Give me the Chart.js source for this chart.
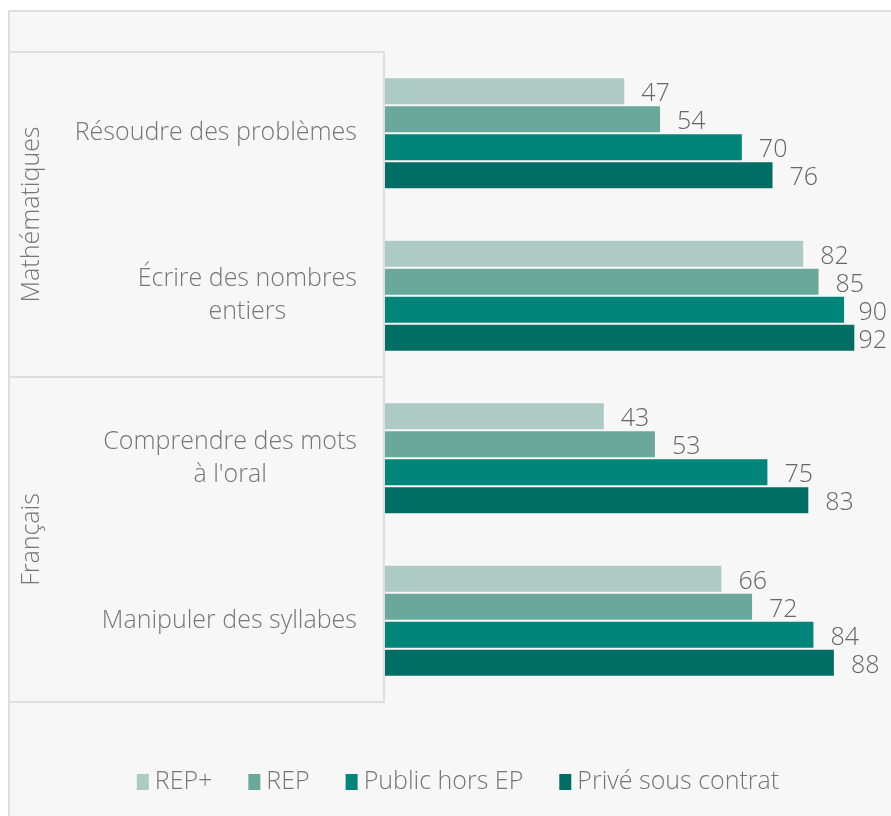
<!DOCTYPE html>
<html><head><meta charset="utf-8">
<script src="https://cdn.jsdelivr.net/npm/chart.js@4"></script>
<style>html,body{margin:0;padding:0;background:#fff}canvas{display:block}</style>
</head><body>
<canvas id="c" width="891" height="816"></canvas>
<script>
const categories = [["Résoudre des problèmes"], ["Écrire des nombres", "entiers"], ["Comprendre des mots", "à l'oral"], ["Manipuler des syllabes"]];
const groupNames = ["Mathématiques", "Français"];
const groupRanges = [[0, 1], [2, 3]];
const seriesNames = ["REP+", "REP", "Public hors EP", "Privé sous contrat"];
const repPlus = [47, 82, 43, 66];
const rep = [54, 85, 53, 72];
const publicHorsEP = [70, 90, 75, 84];
const priveSousContrat = [76, 92, 83, 88];
const colors = ["#aecac4", "#6aa89c", "#00857a", "#006e64"];

const FONT = "'Open Sans', Lato, sans-serif";
const TEXT = "#767676";
const LINE = "#dedede";

const deco = {
  id: 'deco',
  beforeDraw(chart) {
    const ctx = chart.ctx, y = chart.scales.y, a = chart.chartArea;
    ctx.save();
    ctx.fillStyle = '#fff'; ctx.fillRect(0, 0, chart.width, chart.height);
    ctx.fillStyle = '#f7f7f7'; ctx.fillRect(8, 10, chart.width - 8, chart.height - 10);
    ctx.strokeStyle = LINE; ctx.lineWidth = 2;
    ctx.beginPath(); ctx.moveTo(9, chart.height); ctx.lineTo(9, 11); ctx.lineTo(chart.width, 11); ctx.stroke();
    groupRanges.forEach(r => {
      const t = y.getPixelForValue(r[0] - 0.5), b = y.getPixelForValue(r[1] + 0.5);
      ctx.strokeRect(9, t, a.left - 1 - 9, b - t);
    });
    ctx.restore();
  },
  afterDatasetsDraw(chart) {
    const ctx = chart.ctx;
    ctx.save();
    ctx.font = "300 25px " + FONT; ctx.fillStyle = "#666"; ctx.textBaseline = 'middle';
    chart.data.datasets.forEach((ds, i) => {
      chart.getDatasetMeta(i).data.forEach((bar, j) => {
        const s = String(ds.data[j]);
        const w = ctx.measureText(s).width;
        let x = bar.x + 16;
        if (x + w > chart.width - 4) x = chart.width - 4 - w;
        ctx.fillText(s, x, bar.y + 3);
      });
    });
    ctx.restore();
  },
  afterDraw(chart) {
    const ctx = chart.ctx, y = chart.scales.y;
    ctx.save();
    ctx.fillStyle = TEXT; ctx.textBaseline = 'middle'; ctx.textAlign = 'center';
    ctx.font = "300 25px " + FONT;
    const right = 357, lh = 33;
    categories.forEach((lines, i) => {
      const cy = y.getPixelForValue(i);
      const mw = Math.max(...lines.map(l => ctx.measureText(l).width));
      const cx = right - mw / 2;
      lines.forEach((l, k) => ctx.fillText(l, cx, cy + (k - (lines.length - 1) / 2) * lh));
    });
    groupRanges.forEach((r, g) => {
      const cy = (y.getPixelForValue(r[0]) + y.getPixelForValue(r[1])) / 2;
      ctx.save(); ctx.translate(32, cy); ctx.rotate(-Math.PI / 2);
      ctx.fillText(groupNames[g], 0, 0); ctx.restore();
    });
    ctx.textAlign = 'left';
    const bw = 12, bh = 16, gap = 6, sp = 36, ly = 782;
    const widths = chart.data.datasets.map(d => bw + gap + ctx.measureText(d.label).width);
    const total = widths.reduce((s, v) => s + v, 0) + sp * (widths.length - 1);
    let x = 458 - total / 2;
    chart.data.datasets.forEach((d, i) => {
      ctx.fillStyle = d.backgroundColor;
      ctx.fillRect(x, ly - bh / 2, bw, bh);
      ctx.fillStyle = TEXT;
      ctx.fillText(d.label, x + bw + gap, ly);
      x += widths[i] + sp;
    });
    ctx.restore();
  }
};

const seriesData = [repPlus, rep, publicHorsEP, priveSousContrat];
new Chart(document.getElementById('c'), {
  type: 'bar',
  data: {
    labels: categories,
    datasets: seriesData.map((d, i) => ({
      label: seriesNames[i], data: d, backgroundColor: colors[i],
      borderColor: 'rgba(255,255,255,0.35)', borderWidth: 1, borderSkipped: 'start'
    }))
  },
  options: {
    indexAxis: 'y', responsive: false, animation: false,
    categoryPercentage: 0.69, barPercentage: 1.0,
    layout: { padding: { left: 385, right: 5, top: 52, bottom: 114 } },
    scales: {
      x: { display: false, min: 0, max: 98 },
      y: { display: false }
    },
    plugins: { legend: { display: false }, tooltip: { enabled: false } }
  },
  plugins: [deco]
});
</script>
</body></html>
